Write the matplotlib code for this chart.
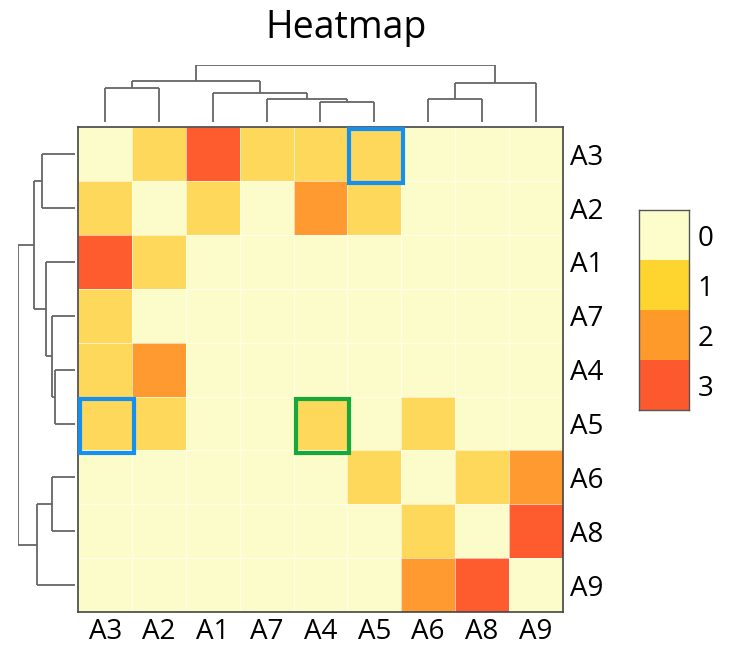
import matplotlib
matplotlib.use("Agg")
import matplotlib.pyplot as plt
import numpy as np
from matplotlib.colors import ListedColormap, BoundaryNorm
from matplotlib.patches import Rectangle

plt.rcParams['font.family'] = ['Open Sans', 'DejaVu Sans']

# ---- data ----
row_labels = ["A3", "A2", "A1", "A7", "A4", "A5", "A6", "A8", "A9"]
col_labels = ["A3", "A2", "A1", "A7", "A4", "A5", "A6", "A8", "A9"]
values = [
    [0, 1, 3, 1, 1, 1, 0, 0, 0],
    [1, 0, 1, 0, 2, 1, 0, 0, 0],
    [3, 1, 0, 0, 0, 0, 0, 0, 0],
    [1, 0, 0, 0, 0, 0, 0, 0, 0],
    [1, 2, 0, 0, 0, 0, 0, 0, 0],
    [1, 1, 0, 0, 1, 0, 1, 0, 0],
    [0, 0, 0, 0, 0, 1, 0, 1, 2],
    [0, 0, 0, 0, 0, 0, 1, 0, 3],
    [0, 0, 0, 0, 0, 0, 2, 3, 0],
]
legend_levels = [0, 1, 2, 3]
# dendrogram merges: (left node, right node, height, new node name)
merges = [
    ("A4", "A5", 20.3, "n1"),
    ("A7", "n1", 23.3, "n2"),
    ("A1", "n2", 29.0, "n3"),
    ("A3", "A2", 33.5, "n4"),
    ("n4", "n3", 41.0, "n5"),
    ("A6", "A8", 23.3, "n6"),
    ("n6", "A9", 38.7, "n7"),
    ("n5", "n7", 57.3, "n8"),
]
blue_boxes = [("A3", "A5"), ("A5", "A3")]   # (row, col)
green_boxes = [("A5", "A4")]

cell_colors = ["#FCFCCA", "#FED85A", "#FE9A2F", "#FE5B2E"]
legend_colors = ["#FCFDCB", "#FED42F", "#FD9A2A", "#FC5A2E"]

W, H = 730, 647
fig = plt.figure(figsize=(W / 100, H / 100), dpi=100)

def fr(x0, y0, x1, y1):
    return [x0 / W, 1 - y1 / H, (x1 - x0) / W, (y1 - y0) / H]

hx0, hy0, hx1, hy1 = 78.3, 127.3, 562.5, 612.0
ax = fig.add_axes(fr(hx0, hy0, hx1, hy1))
data = np.array(values)
n = len(row_labels)
cmap = ListedColormap(cell_colors)
norm = BoundaryNorm([-0.5, 0.5, 1.5, 2.5, 3.5], cmap.N)
ax.pcolormesh(np.arange(n + 1), np.arange(n + 1), data, cmap=cmap, norm=norm,
              edgecolors=(1, 1, 1, 0.6), linewidth=0.5)
ax.set_xlim(0, n)
ax.set_ylim(n, 0)
ax.set_xticks(np.arange(n) + 0.5)
ax.set_xticklabels(col_labels, fontsize=20)
ax.set_yticks(np.arange(n) + 0.5)
ax.set_yticklabels(row_labels, fontsize=20)
ax.yaxis.tick_right()
ax.tick_params(length=0)
ax.tick_params(axis='y', pad=5.5)
ax.tick_params(axis='x', pad=4.5)
for s in ax.spines.values():
    s.set_color("#444444")
    s.set_linewidth(1.2)

def draw_box(r, c, color):
    ri = row_labels.index(r)
    ci = col_labels.index(c)
    ax.add_patch(Rectangle((ci + 0.04, ri + 0.04), 1.0, 1.0, fill=False,
                           edgecolor=color, linewidth=3.0, clip_on=False, zorder=5))

for r, c in blue_boxes:
    draw_box(r, c, "#1590EE")
for r, c in green_boxes:
    draw_box(r, c, "#17A83C")

# ---- dendrograms ----
def dendro_segments(leaves):
    pos = {lab: i + 0.5 for i, lab in enumerate(leaves)}
    hgt = {lab: 0.0 for lab in leaves}
    segs = []
    for a, b, h, name in merges:
        xa, xb = pos[a], pos[b]
        segs.append(((xa, hgt[a]), (xa, h)))
        segs.append(((xb, hgt[b]), (xb, h)))
        segs.append(((xa, h), (xb, h)))
        pos[name] = (xa + xb) / 2
        hgt[name] = h
    return segs

top_h = max(m[2] for m in merges)
lc = "#666666"

axc = fig.add_axes(fr(hx0, 122 - top_h, hx1, 122))
for (x0, y0), (x1, y1) in dendro_segments(col_labels):
    axc.plot([x0, x1], [y0, y1], color=lc, lw=1.3, solid_capstyle='butt')
axc.set_xlim(0, n)
axc.set_ylim(0, top_h)
axc.axis('off')

axr = fig.add_axes(fr(75.3 - top_h, hy0, 75.3, hy1))
for (x0, y0), (x1, y1) in dendro_segments(row_labels):
    axr.plot([y0, y1], [x0, x1], color=lc, lw=1.3, solid_capstyle='butt')
axr.set_ylim(n, 0)
axr.set_xlim(top_h, 0)
axr.axis('off')

# ---- legend ----
axl = fig.add_axes(fr(639, 210, 689.3, 410))
axl.pcolormesh([0, 1], np.arange(len(legend_levels) + 1),
               np.array(legend_levels).reshape(-1, 1),
               cmap=ListedColormap(legend_colors),
               norm=BoundaryNorm([-0.5, 0.5, 1.5, 2.5, 3.5], 4))
axl.set_xlim(0, 1)
axl.set_ylim(len(legend_levels), 0)
axl.set_xticks([])
axl.set_yticks(np.arange(len(legend_levels)) + 0.5)
axl.set_yticklabels([str(v) for v in legend_levels], fontsize=20)
axl.yaxis.tick_right()
axl.tick_params(length=0, pad=6)
for s in axl.spines.values():
    s.set_color("#555555")
    s.set_linewidth(1.0)

fig.text(346 / W, 1 - 38.3 / H, "Heatmap", ha='center', va='baseline', fontsize=27)

fig.savefig("out.png", dpi=100)
